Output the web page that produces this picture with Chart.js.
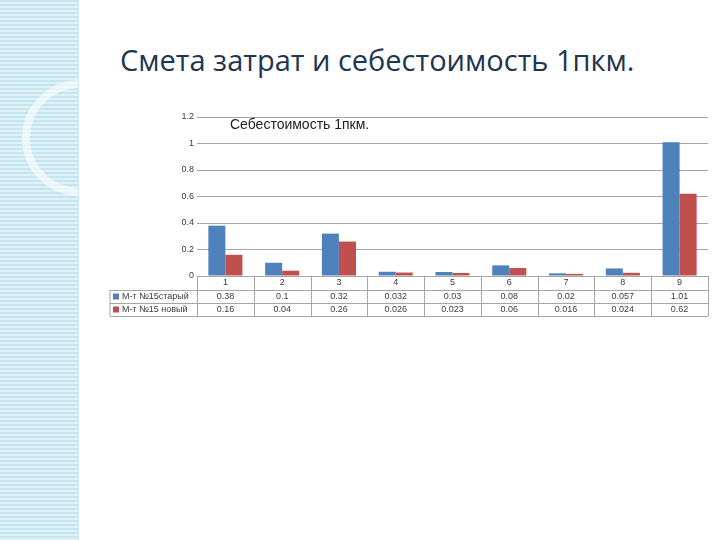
<!DOCTYPE html>
<html><head><meta charset="utf-8">
<script src="https://cdn.jsdelivr.net/npm/chart.js@4"></script>
<style>
body{margin:0;width:720px;height:540px;background:#fff;position:relative;overflow:hidden;font-family:Calibri,"Liberation Sans",sans-serif}
#side{position:absolute;left:0;top:0;width:78px;height:540px;overflow:hidden;background:repeating-linear-gradient(0deg,#dff1f7 0 2px,#c4e6f1 2px 4px);border-right:1px solid #cfe6ee}
#c1{position:absolute;left:22px;top:80px;width:100px;height:100px;border-radius:50%;border:8px solid rgba(255,255,255,.6)}
#title{position:absolute;left:120px;top:40px;font-size:29px;color:#1f3550;font-family:"Open Sans",sans-serif}
#wrap{position:absolute;left:100px;top:105px;width:615px;height:220px}
</style></head><body>
<div id="side"><div id="c1"></div></div>
<div id="title">Смета затрат и себестоимость 1пкм.</div>
<div id="wrap"><canvas id="chart"></canvas></div>
<script>
const categories = ['1','2','3','4','5','6','7','8','9'];
const oldValues = [0.38, 0.1, 0.32, 0.032, 0.03, 0.08, 0.02, 0.057, 1.01];
const newValues = [0.16, 0.04, 0.26, 0.026, 0.023, 0.06, 0.016, 0.024, 0.62];
const seriesNames = ['М-т №15старый', 'М-т №15 новый'];
const colors = ['#4f81bd', '#c0504d'];

const tablePlugin = {
  id: 'table',
  afterDraw(chart) {
    const ctx = chart.ctx, x = chart.scales.x, a = chart.chartArea;
    const rows = [a.bottom, a.bottom + 14, a.bottom + 27, a.bottom + 40];
    const step = (a.right - a.left) / categories.length;
    ctx.save();
    ctx.strokeStyle = '#a6a6a6'; ctx.lineWidth = 1;
    ctx.beginPath();
    for (let i = 1; i < rows.length; i++) { ctx.moveTo(10, rows[i] + .5); ctx.lineTo(a.right, rows[i] + .5); }
    ctx.moveTo(10, rows[1]); ctx.lineTo(10, rows[3]);
    for (let i = 0; i <= categories.length; i++) {
      const px = Math.round(a.left + i * step) + .5;
      ctx.moveTo(px, rows[0]); ctx.lineTo(px, rows[3]);
    }
    ctx.stroke();
    ctx.font = '9px "Liberation Sans", sans-serif'; ctx.fillStyle = '#404040';
    ctx.textAlign = 'center'; ctx.textBaseline = 'middle';
    categories.forEach((c, i) => {
      const cx = x.getPixelForValue(i);
      ctx.fillText(c, cx, (rows[0] + rows[1]) / 2);
      ctx.fillText(String(oldValues[i]), cx, (rows[1] + rows[2]) / 2);
      ctx.fillText(String(newValues[i]), cx, (rows[2] + rows[3]) / 2);
    });
    ctx.textAlign = 'left';
    [oldValues, newValues].forEach((_, k) => {
      const cy = (rows[k + 1] + rows[k + 2]) / 2;
      ctx.fillStyle = colors[k]; ctx.fillRect(13, cy - 3, 6, 6);
      ctx.fillStyle = '#404040'; ctx.fillText(seriesNames[k], 22, cy);
    });
    ctx.font = '14px "Liberation Sans", sans-serif'; ctx.fillStyle = '#222';
    ctx.fillText('Себестоимость 1пкм.', 130, a.top + 8);
    ctx.restore();
  }
};

new Chart(document.getElementById('chart'), {
  type: 'bar',
  data: {
    labels: categories,
    datasets: [
      { label: seriesNames[0], data: oldValues, backgroundColor: colors[0] },
      { label: seriesNames[1], data: newValues, backgroundColor: colors[1] }
    ]
  },
  options: {
    responsive: true, maintainAspectRatio: false, animation: false,
    layout: { padding: { top: 12, right: 7, bottom: 49 } },
    datasets: { bar: { categoryPercentage: 0.6, barPercentage: 1 } },
    scales: {
      x: { display: false },
      y: {
        min: 0, max: 1.2,
        ticks: { stepSize: 0.2, color: '#404040', font: { size: 9 }, callback: v => +v.toFixed(1) },
        grid: { color: '#a6a6a6', drawTicks: false },
        border: { display: false },
        afterFit: s => { s.width = 97; }
      }
    },
    plugins: { legend: { display: false }, tooltip: { enabled: false } }
  },
  plugins: [tablePlugin]
});
</script>
</body></html>
